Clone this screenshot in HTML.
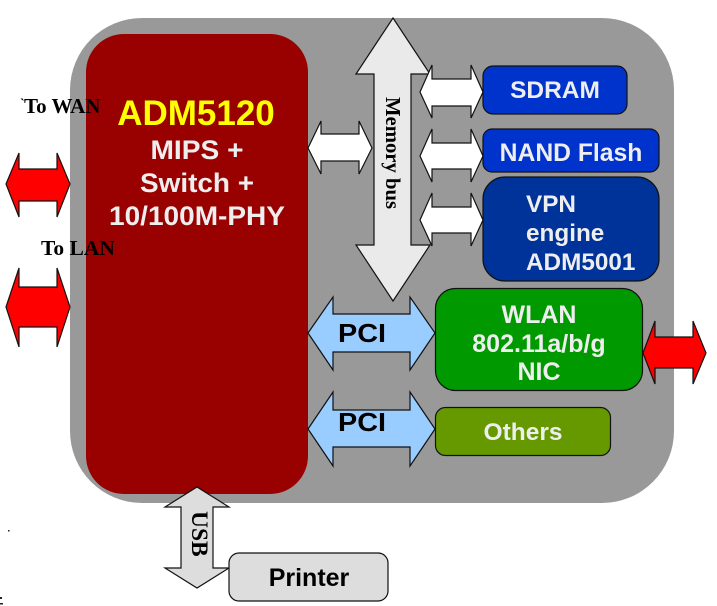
<!DOCTYPE html>
<html><head><meta charset="utf-8"><style>
html,body{margin:0;padding:0;background:#fff;overflow:hidden}
svg{display:block}
.s{font-family:"Liberation Sans",sans-serif;font-weight:bold}
.t{font-family:"Liberation Serif",serif;font-weight:bold}
</style></head><body>
<svg width="717" height="606" viewBox="0 0 717 606" xmlns="http://www.w3.org/2000/svg">
<rect width="717" height="606" fill="#fff"/>
<rect x="70" y="18" width="604" height="485" rx="72" fill="#999"/>
<rect x="86" y="34" width="222" height="460" rx="38" fill="#990000"/>

<g stroke="#111" stroke-width="1.2" stroke-linejoin="miter">
<!-- red arrows -->
<polygon fill="#f00" points="6,184 19,153 19,169 57,169 57,153 70,184 57,217 57,201 19,201 19,217"/>
<polygon fill="#f00" points="6,307 19,268 19,287 57,287 57,268 70,307 57,347 57,327 19,327 19,347"/>
<polygon fill="#f00" points="643,353 655,321 655,337 693,337 693,321 706,353 693,384 693,368 655,368 655,384"/>
<!-- memory bus -->
<polygon fill="#eaeaea" points="393,18 430,74 411,74 411,245 430,245 393,301 356,245 374,245 374,74 356,74"/>
<!-- white arrows -->
<polygon fill="#fff" points="308,148 321,121 321,134 359,134 359,121 372,148 359,174 359,161 321,161 321,174"/>
<polygon fill="#fff" points="420,92 432,65 432,79 471,79 471,65 483,92 471,118 471,106 432,106 432,118"/>
<polygon fill="#fff" points="420,156 432,129 432,143 471,143 471,129 483,156 471,182 471,169 432,169 432,182"/>
<polygon fill="#fff" points="420,220 432,193 432,207 471,207 471,193 483,220 471,246 471,233 432,233 432,246"/>
<!-- PCI arrows -->
<polygon fill="#99ccff" points="308,333 333,297 333,314 410,314 410,297 435,333 410,370 410,352 333,352 333,370"/>
<polygon fill="#99ccff" points="308,429 333,392 333,410 410,410 410,392 435,429 410,466 410,447 333,447 333,466"/>
<!-- USB -->
<polygon fill="#dddddd" points="197,487 229,507 213,507 213,568 229,568 197,588 165,568 181,568 181,507 165,507"/>
<!-- boxes -->
<rect x="483" y="66" width="144" height="48" rx="10" fill="#0033cc"/>
<rect x="483" y="129" width="176" height="43" rx="9" fill="#0033cc"/>
<rect x="483" y="177" width="176" height="104" rx="22" fill="#003399"/>
<rect x="435.500" y="288.500" width="207" height="102" rx="20" fill="#009900"/>
<rect x="435.500" y="407.500" width="175" height="48" rx="10" fill="#669900"/>
<rect x="229" y="553" width="159" height="48" rx="10" fill="#dddddd"/>
</g>

<g class="s" text-anchor="middle">
<text x="196" y="125" font-size="35" fill="#ffff00">ADM5120</text>
<text x="197" y="159" font-size="27" textLength="93" lengthAdjust="spacingAndGlyphs" fill="#eeeeee">MIPS +</text>
<text x="197" y="192" font-size="27" textLength="114" lengthAdjust="spacingAndGlyphs" fill="#eeeeee">Switch +</text>
<text x="197" y="225" font-size="27" textLength="176" lengthAdjust="spacingAndGlyphs" fill="#eeeeee">10/100M-PHY</text>
<text x="555" y="98" font-size="24.500" fill="#eeeeee">SDRAM</text>
<text x="571" y="161" font-size="24.700" fill="#eeeeee">NAND Flash</text>
<text x="523" y="440" font-size="24.500" fill="#eeeeee">Others</text>
<text x="539" y="323" font-size="25" fill="#eeeeee">WLAN</text>
<text x="539" y="352" font-size="25" fill="#eeeeee">802.11a/b/g</text>
<text x="539" y="380" font-size="25" fill="#eeeeee">NIC</text>
<text x="362" y="342" font-size="26" textLength="48" lengthAdjust="spacingAndGlyphs" fill="#000">PCI</text>
<text x="362" y="431" font-size="26" textLength="48" lengthAdjust="spacingAndGlyphs" fill="#000">PCI</text>
<text x="309" y="586" font-size="25" fill="#000">Printer</text>
</g>
<g class="s" font-size="24.300" fill="#eeeeee">
<text x="526" y="212">VPN</text>
<text x="526" y="241">engine</text>
<text x="526" y="270">ADM5001</text>
</g>

<g class="t" fill="#000">
<text x="20" y="108" font-size="14">`</text>
<text x="24" y="113" font-size="21">To WAN</text>
<text x="41" y="255" font-size="21.500">To LAN</text>
<text transform="translate(386,97) rotate(90)" font-size="20.700">Memory bus</text>
<text transform="translate(192,511) rotate(90)" font-size="23.500">USB</text>
</g>
<rect x="8" y="530" width="1.500" height="1.500" fill="#222"/>
<rect x="0" y="597" width="2" height="2" fill="#222"/>
<rect x="0" y="603" width="3" height="1.500" fill="#222"/>
</svg>
</body></html>
